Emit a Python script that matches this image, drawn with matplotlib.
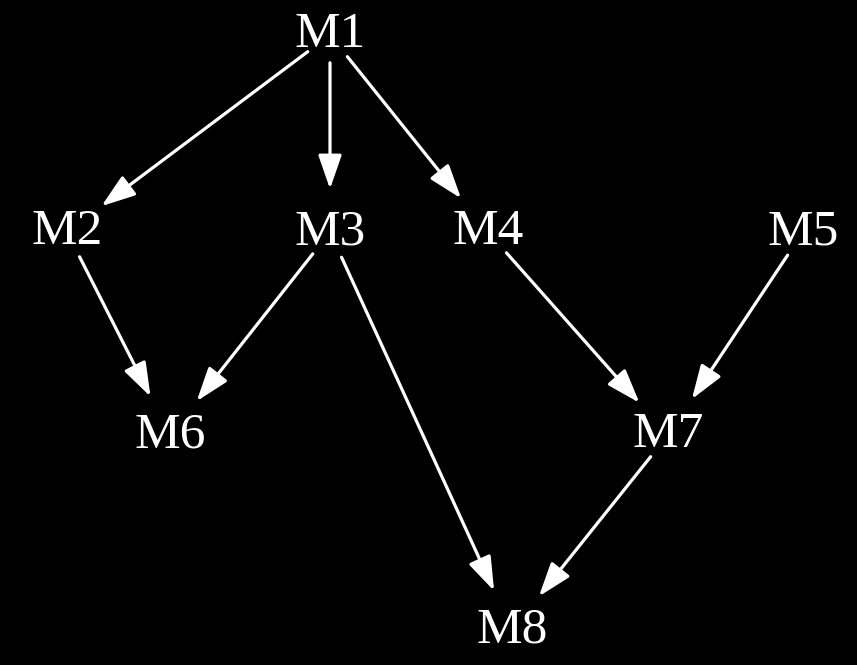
import matplotlib
matplotlib.use("Agg")
import matplotlib.pyplot as plt

nodes = ["M1", "M2", "M3", "M4", "M5", "M6", "M7", "M8"]
edges = [("M1", "M2"), ("M1", "M3"), ("M1", "M4"), ("M2", "M6"), ("M3", "M6"),
         ("M3", "M8"), ("M4", "M7"), ("M5", "M7"), ("M7", "M8")]

# layout (pixel space of the canvas)
pos = {"M1": (330, 35), "M2": (67, 232), "M3": (330, 232), "M4": (488, 232),
       "M5": (803, 232), "M6": (170, 435), "M7": (668, 435), "M8": (512, 630)}

fig = plt.figure(figsize=(8.57, 6.65), dpi=100, facecolor="black")
ax = fig.add_axes([0, 0, 1, 1])
ax.set_facecolor("black")
ax.set_xlim(0, 857)
ax.set_ylim(665, 0)
ax.axis("off")

for n in nodes:
    x, y = pos[n]
    ax.text(x, y, n, color="white", fontsize=37, family="Liberation Serif",
            ha="center", va="center")

for a, b in edges:
    ax.annotate("", xy=pos[b], xytext=pos[a],
                arrowprops=dict(arrowstyle="-|>,head_length=1.3,head_width=0.45",
                                mutation_scale=16, lw=2.3, color="white",
                                shrinkA=20, shrinkB=31))

fig.savefig("out.png", dpi=100, facecolor="black")
